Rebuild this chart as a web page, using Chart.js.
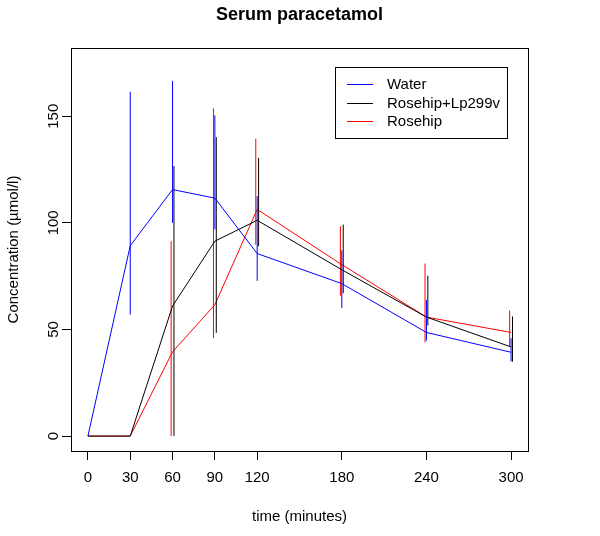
<!DOCTYPE html>
<html>
<head>
<meta charset="utf-8">
<script src="https://cdn.jsdelivr.net/npm/chart.js@4/dist/chart.umd.min.js"></script>
<style>
  html, body { margin: 0; padding: 0; background: #fff; }
  canvas { display: block; }
</style>
</head>
<body>
<canvas id="chart" width="600" height="536"></canvas>
<script>
// --------------------
// Data
// --------------------
const times = [0, 30, 60, 90, 120, 180, 240, 300];
const xTicks = [0, 30, 60, 90, 120, 180, 240, 300];
const yTicks = [0, 50, 100, 150];

const seriesNames = ['Water', 'Rosehip+Lp299v', 'Rosehip'];

const water     = [0, 89.3, 115.6, 111.6, 85.6, 71.5, 48.6, 39.3];
const waterLow  = [0, 57.0, 100.0, 97.0, 72.8, 60.0, 44.8, 35.0];
const waterHigh = [0, 161.5, 166.6, 150.4, 112.5, 87.1, 63.9, 45.9];

const combo     = [0, 0, 61.0, 91.4, 101.2, 78.0, 55.8, 41.8];
const comboLow  = [0, 0, 0, 48.4, 89.0, 67.0, 51.9, 34.9];
const comboHigh = [0, 0, 126.6, 140.2, 130.5, 99.2, 75.2, 56.1];

const rose      = [0, 0, 39.5, 61.6, 106.3, 80.4, 55.8, 48.6];
const roseLow   = [0, 0, 0, 46.0, 89.8, 65.8, 43.9, 42.0];
const roseHigh  = [0, 0, 91.4, 153.7, 139.5, 98.4, 80.9, 58.9];

// --------------------
// Styles
// --------------------
const colors = ['#0000ff', '#000000', '#ff0000'];
const FONT = '"Liberation Sans", Arial, Helvetica, sans-serif';
const barShift = [0, 1, -1]; // small x offset (minutes) so the bars don't overlap

function points(values) {
  return times.map((t, i) => ({ x: t, y: values[i] }));
}

// vertical bars as one broken line per series
function bars(low, high, shift) {
  const out = [];
  times.forEach((t, i) => {
    out.push({ x: t + shift, y: low[i] });
    out.push({ x: t + shift, y: high[i] });
    out.push({ x: t + shift, y: null });
  });
  return out;
}

const means = [water, combo, rose];
const lows = [waterLow, comboLow, roseLow];
const highs = [waterHigh, comboHigh, roseHigh];

const datasets = [];
means.forEach((m, s) => {
  datasets.push({
    label: seriesNames[s],
    data: points(m),
    borderColor: colors[s],
    borderWidth: 1,
    pointRadius: 0,
    tension: 0,
    fill: false
  });
  datasets.push({
    label: seriesNames[s] + ' range',
    data: bars(lows[s], highs[s], barShift[s]),
    borderColor: colors[s],
    borderWidth: 1,
    pointRadius: 0,
    spanGaps: false,
    fill: false
  });
});

// --------------------
// Frame, titles, rotated y labels, legend box
// --------------------
const decorations = {
  id: 'decorations',
  afterDraw(chart) {
    const ctx = chart.ctx;
    const a = chart.chartArea;
    const yScale = chart.scales.y;
    ctx.save();

    // box
    ctx.strokeStyle = '#000';
    ctx.lineWidth = 1;
    ctx.strokeRect(Math.round(a.left) + 0.5, Math.round(a.top) + 0.5,
      Math.round(a.right - a.left), Math.round(a.bottom - a.top));

    ctx.fillStyle = '#000';
    ctx.textAlign = 'center';
    ctx.textBaseline = 'middle';

    // main title
    ctx.font = 'bold 18px ' + FONT;
    ctx.fillText('Serum paracetamol', (a.left + a.right) / 2, 15);

    // x axis title
    ctx.font = '15px ' + FONT;
    ctx.fillText('time (minutes)', (a.left + a.right) / 2, 517);

    // y axis title
    ctx.save();
    ctx.translate(14, (a.top + a.bottom) / 2);
    ctx.rotate(-Math.PI / 2);
    ctx.fillText('Concentration (\u00b5mol/l)', 0, 0);
    ctx.restore();

    // y tick labels, parallel to the axis
    yTicks.forEach(v => {
      ctx.save();
      ctx.translate(a.left - 17, yScale.getPixelForValue(v));
      ctx.rotate(-Math.PI / 2);
      ctx.fillText(String(v), 0, 0);
      ctx.restore();
    });

    // legend
    const lx = a.right - 193, ly = a.top + 19;
    ctx.strokeStyle = '#000';
    ctx.strokeRect(Math.round(lx) + 0.5, Math.round(ly) + 0.5, 172, 71);
    ctx.textAlign = 'left';
    seriesNames.forEach((name, i) => {
      const y = Math.round(ly + 17 + i * 18.5);
      ctx.beginPath();
      ctx.strokeStyle = colors[i];
      ctx.lineWidth = 1;
      ctx.moveTo(lx + 12, y + 0.5);
      ctx.lineTo(lx + 38, y + 0.5);
      ctx.stroke();
      ctx.fillStyle = '#000';
      ctx.fillText(name, lx + 52, y + 1);
    });

    ctx.restore();
  }
};

// --------------------
// Chart
// --------------------
new Chart(document.getElementById('chart').getContext('2d'), {
  type: 'line',
  data: { datasets: datasets },
  plugins: [decorations],
  options: {
    responsive: false,
    animation: false,
    devicePixelRatio: 1,
    layout: { padding: { top: 48, right: 72, bottom: 0, left: 0 } },
    plugins: {
      legend: { display: false },
      title: { display: false },
      tooltip: { enabled: false }
    },
    scales: {
      x: {
        type: 'linear',
        min: -12,
        max: 312,
        afterBuildTicks: scale => { scale.ticks = xTicks.map(v => ({ value: v })); },
        afterFit: scale => { scale.height = 85; },
        grid: { drawOnChartArea: false, drawTicks: true, tickLength: 9, tickColor: '#000' },
        border: { display: true, color: '#000' },
        ticks: {
          color: '#000',
          font: { size: 15, family: FONT },
          padding: 9,
          maxRotation: 0,
          autoSkip: false,
          callback: v => String(v)
        }
      },
      y: {
        type: 'linear',
        min: -7,
        max: 182,
        afterBuildTicks: scale => { scale.ticks = yTicks.map(v => ({ value: v })); },
        afterFit: scale => { scale.width = 71; },
        grid: { drawOnChartArea: false, drawTicks: true, tickLength: 9, tickColor: '#000' },
        border: { display: true, color: '#000' },
        ticks: { display: false }
      }
    }
  }
});
</script>
</body>
</html>
